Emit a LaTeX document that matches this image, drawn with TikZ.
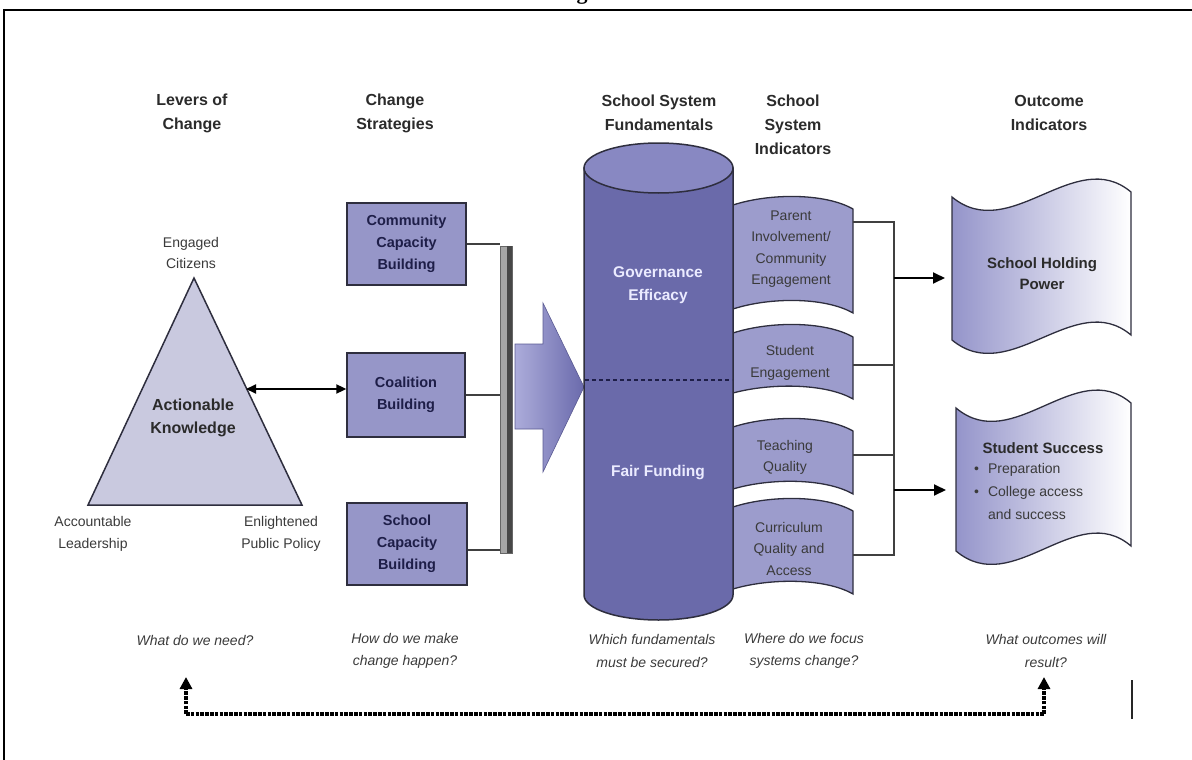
\documentclass[tikz,border=0pt]{standalone}
\usepackage{fontspec}
\setmainfont{Liberation Sans}
\newfontfamily\ttlfont{Liberation Serif}
\usetikzlibrary{arrows.meta}
\definecolor{trif}{HTML}{C9C9DF}
\definecolor{stratf}{HTML}{9696C8}
\definecolor{cylf}{HTML}{6A6AAA}
\definecolor{cyltop}{HTML}{8888C2}
\definecolor{flagf}{HTML}{9C9CCC}
\definecolor{outl}{HTML}{9494CA}
\definecolor{arrl}{HTML}{ACACDA}
\definecolor{arrr}{HTML}{6A6AAC}
\definecolor{hdrc}{HTML}{2B2B2B}
\definecolor{txtc}{HTML}{3A3A3A}
\definecolor{navyc}{HTML}{1E1E48}
\definecolor{edgec}{HTML}{2E2E3E}
\begin{document}
\begin{tikzpicture}[x=1pt,y=-1pt,
  hdr/.style={font=\fontsize{16}{24}\selectfont\bfseries, text=hdrc, align=center, inner sep=0pt},
  lbl/.style={font=\fontsize{14}{21.5}\selectfont, text=txtc, align=center, inner sep=0pt},
  qtext/.style={font=\fontsize{14}{22.5}\selectfont\itshape, text=txtc, align=center, inner sep=0pt},
  stratbox/.style={draw=edgec, line width=1.3pt, fill=stratf, font=\fontsize{14.5}{22}\selectfont\bfseries, text=navyc, align=center, inner sep=0pt},
  cyltext/.style={font=\fontsize{15.5}{23}\selectfont\bfseries, text=white!92!blue, align=center, inner sep=0pt},
  outtext/.style={font=\fontsize{15}{21}\selectfont\bfseries, text=hdrc, align=center, inner sep=0pt},
  flagst/.style={draw=edgec, line width=1.3pt, fill=flagf},
  outst/.style={draw=edgec, line width=1.3pt},
  conn/.style={draw=black!75, line width=1.4pt},
  arr/.style={draw=black, line width=1.8pt, -{Triangle[width=11pt,length=12pt]}},
  dblarr/.style={draw=black, line width=1.8pt, {Triangle[width=9pt,length=10pt]}-{Triangle[width=9pt,length=10pt]}},
  feedback/.style={draw=black, line width=3.4pt, dash pattern=on 3.6pt off 1.2pt},
  fbhead/.style={draw=black, line width=3.4pt, dash pattern=on 3.6pt off 1.2pt, -{Triangle[width=12pt,length=12pt,sep=0pt]}}
]
\useasboundingbox (0,0) rectangle (1192,760);
\clip (0,0) rectangle (1192,760);

% frame and cut title
\draw[line width=2pt, black] (4,780) -- (4,10) -- (1210,10);
\node[font=\ttlfont\bfseries\fontsize{22}{22}\selectfont, anchor=base, inner sep=0pt] (ttl) at (582,0) {g};

% headers
\node[hdr] (h1) at (192,113) {Levers of\\Change};
\node[hdr] (h2) at (395,113) {Change\\Strategies};
\node[hdr] (h3) at (659,113) {School System\\Fundamentals};
\node[hdr] (h4) at (793,125) {School\\System\\Indicators};
\node[hdr] (h5) at (1049,113) {Outcome\\Indicators};

% triangle
\draw[draw=edgec, line width=1.5pt, fill=trif] (194,278) -- (302,505) -- (88,505) -- cycle;
\coordinate (tri-r) at (246,389);
\node[lbl] (eng) at (191,253) {Engaged\\Citizens};
\node[font=\fontsize{16}{23}\selectfont\bfseries, text=hdrc, align=center, inner sep=0pt] (ak) at (193,418) {Actionable\\Knowledge};
\node[lbl] (acc) at (93,534) {Accountable\\Leadership};
\node[lbl] (enl) at (281,534) {Enlightened\\Public Policy};

% strategy boxes
\node[stratbox, minimum width=119pt, minimum height=82pt] (comm) at (406.5,244) {Community\\Capacity\\Building};
\node[stratbox, minimum width=118pt, minimum height=84pt] (coal) at (406,395) {Coalition\\Building};
\node[stratbox, minimum width=120pt, minimum height=82pt] (scb) at (407,544) {School\\Capacity\\Building};
\draw[dblarr] (tri-r) -- (tri-r -| coal.west);

% collecting bar
\coordinate (bar-t) at (500,246);
\coordinate (bar-b) at (512,553);
\draw[conn] (comm.east) -- (comm.east -| bar-t);
\draw[conn] (coal.east) -- (coal.east -| bar-t);
\draw[conn] ([yshift=-6pt]scb.east) -- ([yshift=-6pt]scb.east -| bar-t);
\draw[fill=black!35, draw=black!60, line width=0.6pt] (bar-t) rectangle (bar-b);
\fill[black!72] (507,246) rectangle (512,553);

% big arrow
\path[left color=arrl, right color=arrr] (515,344) -- (543,344) -- (543,303) -- (584,387) -- (543,472) -- (543,429) -- (515,429) -- cycle;
\draw[arrr!85!black, line width=0.6pt] (515,344) -- (543,344) -- (543,303) -- (584,387) -- (543,472) -- (543,429) -- (515,429) -- cycle;

% indicator flags (drawn before cylinder)
\path[flagst] (720,205) -- (733,205) .. controls (770,193) and (825,193) .. (853,209) -- (853,313) .. controls (825,297) and (770,297) .. (733,309) -- (720,309) -- cycle;
\path[flagst] (720,333) -- (733,333) .. controls (770,321) and (825,321) .. (853,337) -- (853,399) .. controls (825,383) and (770,383) .. (733,393) -- (720,393) -- cycle;
\path[flagst] (720,427) -- (733,427) .. controls (770,415) and (825,415) .. (853,431) -- (853,494) .. controls (825,478) and (770,478) .. (733,489) -- (720,489) -- cycle;
\path[flagst] (720,507) -- (733,507) .. controls (770,495) and (825,495) .. (853,511) -- (853,594) .. controls (825,578) and (770,578) .. (733,589) -- (720,589) -- cycle;
\node[lbl] (pi) at (791,249) {Parent\\Involvement/\\Community\\Engagement};
\node[lbl] (se) at (790,363) {Student\\Engagement};
\node[lbl] (tq) at (785,457.5) {Teaching\\Quality};
\node[lbl] (cq) at (789,548.5) {Curriculum\\Quality and\\Access};

% cylinder
\draw[draw=edgec, line width=1.5pt, fill=cylf] (584,168) -- (584,595) arc[start angle=180, end angle=0, x radius=74.5, y radius=25] -- (733,168) -- cycle;
\draw[draw=edgec, line width=1.5pt, fill=cyltop] (658.5,168) ellipse [x radius=74.5, y radius=25];
\draw[navyc, line width=1.5pt, dash pattern=on 4pt off 3pt] (585,380) -- (732,380);
\node[cyltext] (gov) at (658,285) {Governance\\Efficacy};
\node[cyltext] (ff) at (658,473) {Fair Funding};

% connectors from indicators
\coordinate (pi-o) at (853,222);
\coordinate (se-o) at (853,365);
\coordinate (tq-o) at (853,455);
\coordinate (cq-o) at (853,555);
\coordinate (vt) at (894,222);
\coordinate (vb) at (894,555);
\draw[conn] (pi-o) -- (vt) -- (vb) -- (cq-o);
\draw[conn] (se-o) -- (se-o -| vt);
\draw[conn] (tq-o) -- (tq-o -| vt);
\coordinate (a1) at (894,278);
\coordinate (a2) at (894,490);
\coordinate (shp-l) at (945,278);
\coordinate (ss-l) at (946,490);
\draw[arr] (a1) -- (shp-l);
\draw[arr] (a2) -- (ss-l);

% outcome shapes
\path[left color=outl, right color=white] (952,197) .. controls (1010,245) and (1075,145) .. (1131,192) -- (1131,335) .. controls (1075,288) and (1010,388) .. (952,340) -- cycle;
\draw[outst] (952,197) .. controls (1010,245) and (1075,145) .. (1131,192) -- (1131,335) .. controls (1075,288) and (1010,388) .. (952,340) -- cycle;
\node[outtext] (shp) at (1042,273.5) {School Holding\\Power};

\path[left color=outl, right color=white] (956,408) .. controls (1013,456) and (1076,356) .. (1131,403) -- (1131,546) .. controls (1076,499) and (1013,599) .. (956,551) -- cycle;
\draw[outst] (956,408) .. controls (1013,456) and (1076,356) .. (1131,403) -- (1131,546) .. controls (1076,499) and (1013,599) .. (956,551) -- cycle;
\node[outtext] (ss) at (1043,448) {Student Success};
\node[font=\fontsize{14}{23}\selectfont, text=txtc, inner sep=0pt, anchor=west] (ssl) at (974,492)
  {\begin{tabular}{@{}l@{\hspace{9pt}}l@{}}\textbullet & Preparation\\ \textbullet & College access\\ & and success\end{tabular}};

% guiding questions
\node[qtext] (q1) at (195,640) {What do we need?};
\node[qtext] (q2) at (405,651) {How do we make\\change happen?};
\node[qtext] (q3) at (652,651) {Which fundamentals\\must be secured?};
\node[qtext] (q4) at (804,651) {Where do we focus\\systems change?};
\node[qtext] (q5) at (1046,651) {What outcomes will\\result?};

% feedback loop
\coordinate (fl) at (186,714);
\coordinate (fr) at (1044,714);
\coordinate (fl-t) at (186,677);
\coordinate (fr-t) at (1044,677);
\draw[feedback] (fl) -- (fr);
\draw[fbhead] (fl) -- (fl-t);
\draw[fbhead] (fr) -- (fr-t);

% stray vertical mark
\coordinate (m1) at (1132,680);
\coordinate (m2) at (1132,719);
\draw[black!85, line width=1.6pt] (m1) -- (m2);
\end{tikzpicture}
\end{document}
